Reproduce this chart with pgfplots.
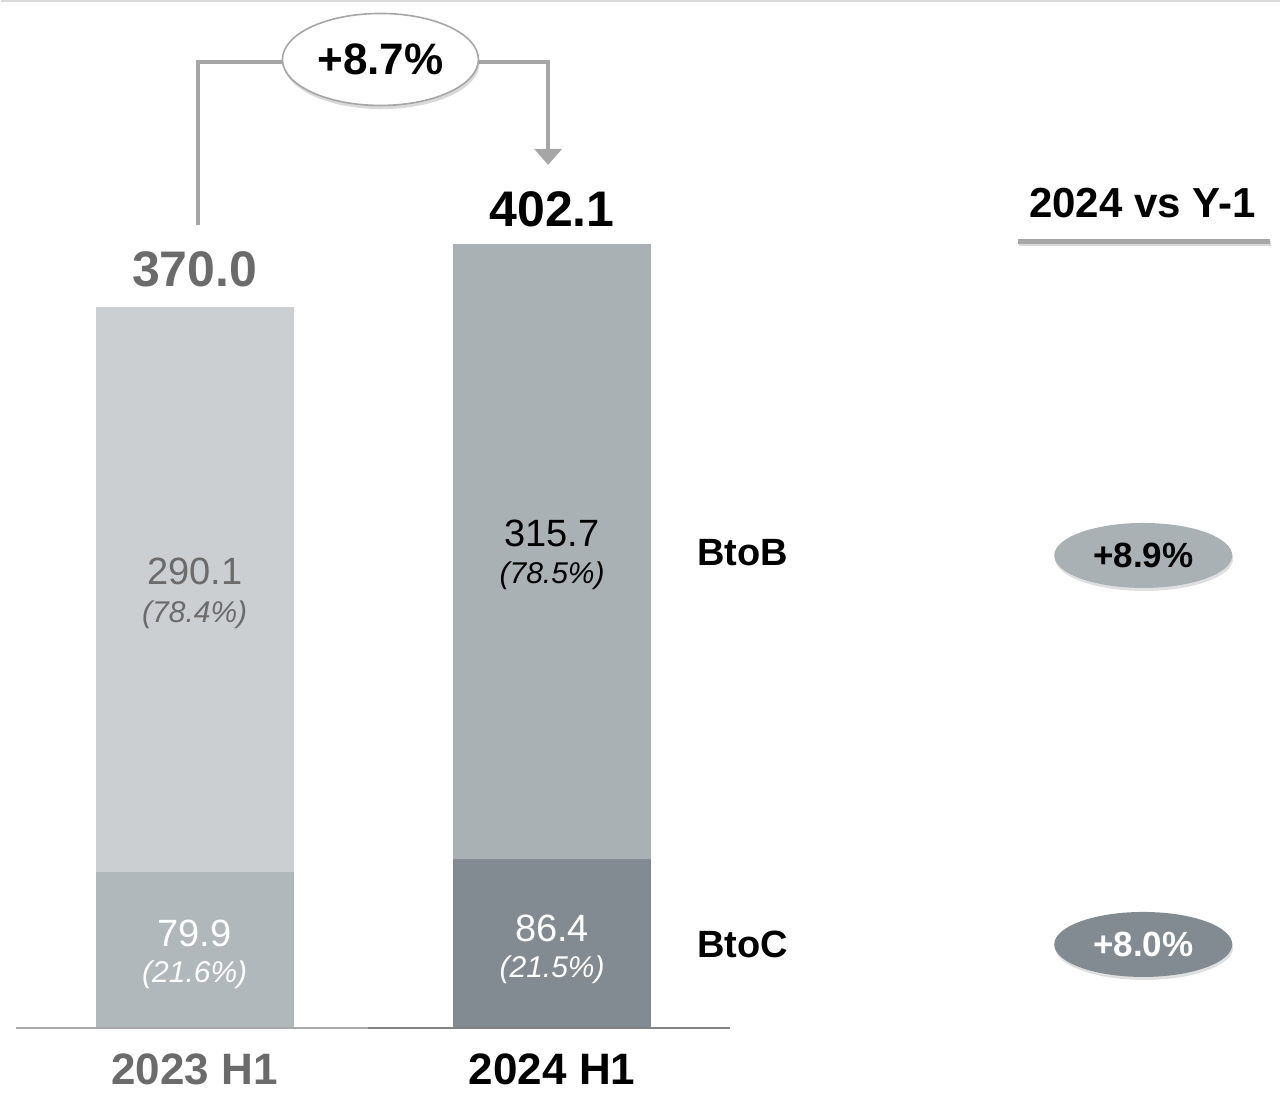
\documentclass[border=0pt]{standalone}
\usepackage{pgfplots}
\pgfplotsset{compat=1.18}
\usepackage{fontspec}
\setmainfont{Liberation Sans}
\usetikzlibrary{shapes.geometric,shadows,arrows.meta}
\definecolor{bBa}{HTML}{CBCFD2}
\definecolor{bCa}{HTML}{B1B8BB}
\definecolor{bBb}{HTML}{AAB1B4}
\definecolor{bCb}{HTML}{818B91}
\definecolor{txtgray}{HTML}{6B6B6B}
\definecolor{arrgray}{HTML}{A6A6A6}
\definecolor{topline}{HTML}{DADADA}
\definecolor{base1}{HTML}{A8A8A8}
\definecolor{base2}{HTML}{828282}
\newcommand\fs[1]{\fontsize{#1}{#1}\selectfont}
\begin{document}
\begin{tikzpicture}
\begin{axis}[
  at={(7.5pt,37.5pt)}, anchor=south west,
  scale only axis, width=357.5pt, height=514pt,
  xmin=-0.5, xmax=1.5, ymin=0, ymax=527.4,
  hide axis, clip=false,
  ybar stacked, bar width=99pt,
]
\addplot[fill=bCa, draw=none] coordinates {(0,79.9) (1,0)};
\addplot[fill=bCb, draw=none] coordinates {(0,0) (1,86.4)};
\addplot[fill=bBa, draw=none] coordinates {(0,290.1) (1,0)};
\addplot[fill=bBb, draw=none] coordinates {(0,0) (1,315.7)};

\coordinate (BBsw) at (axis cs:-0.5419,-38.48);
\coordinate (BBne) at (axis cs:3.0363,527.4);
\coordinate (TLa) at (axis cs:-0.5419,526.9);
\coordinate (TLb) at (axis cs:3.0363,526.9);
\coordinate (BLa) at (axis cs:-0.5,0);
\coordinate (BLm) at (axis cs:0.486,0);
\coordinate (BLb) at (axis cs:1.4972,0);
\coordinate (Ar1) at (axis cs:0.0084,412.0);
\coordinate (Ar2) at (axis cs:0.0084,495.6);
\coordinate (Ar3) at (axis cs:0.9888,495.6);
\coordinate (Ar4) at (axis cs:0.9888,442.8);
\coordinate (ULa) at (axis cs:2.3045,403.5);
\coordinate (ULb) at (axis cs:3.0084,403.5);
\coordinate (Tot0) at (axis cs:0,389.0);
\coordinate (Tot1) at (axis cs:1,420.2);
\coordinate (Ell) at (axis cs:0.5196,496.9);
\coordinate (V0b) at (axis cs:0,234.2);
\coordinate (P0b) at (axis cs:0,211.9);
\coordinate (V1b) at (axis cs:1,253.7);
\coordinate (P1b) at (axis cs:1,231.9);
\coordinate (V0c) at (axis cs:0,48.5);
\coordinate (P0c) at (axis cs:0,27.2);
\coordinate (V1c) at (axis cs:1,51.05);
\coordinate (P1c) at (axis cs:1,29.8);
\coordinate (C0) at (axis cs:0,-21.5);
\coordinate (C1) at (axis cs:1,-21.5);
\coordinate (LB) at (axis cs:1.405,243.7);
\coordinate (LC) at (axis cs:1.405,42.6);
\coordinate (Hd) at (axis cs:2.651,423.3);
\coordinate (GB) at (axis cs:2.6536,242.4);
\coordinate (GC) at (axis cs:2.6536,42.8);
\end{axis}

% frame, lines
\path (BBsw) rectangle (BBne);
\draw[line width=1pt, topline] (TLa) -- (TLb);
\draw[line width=1pt, base1] (BLa) -- (BLm);
\draw[line width=1pt, base2] (BLm) -- (BLb);
% arrow
\draw[line width=2.2pt, arrgray, line join=miter, -{Triangle[width=13.5pt,length=8pt]}]
  (Ar1) -- (Ar2) -- (Ar3) -- (Ar4);
% header underline with shadow
\draw[line width=2.5pt, black!15] ([shift={(0.5pt,-1.2pt)}]ULa) -- ([shift={(0.5pt,-1.2pt)}]ULb);
\draw[line width=2.5pt, arrgray] (ULa) -- (ULb);

% totals
\node[inner sep=0pt, text=txtgray] at (Tot0) {\fs{25}\bfseries 370.0};
\node[inner sep=0pt, text=black] at (Tot1) {\fs{25}\bfseries 402.1};

\node[ellipse, draw=arrgray, line width=0.8pt, fill=white, minimum width=98pt, minimum height=46pt, inner sep=0pt,
  drop shadow={opacity=0.3, shadow xshift=0.6pt, shadow yshift=-1.8pt}]
  at (Ell) {\fs{22}\bfseries +8.7\%};

% segment values
\node[inner sep=0pt, text=txtgray] at (V0b) {\fs{19}290.1};
\node[inner sep=0pt, text=txtgray] at (P0b) {\fs{15}\itshape (78.4\%)};
\node[inner sep=0pt, text=black] at (V1b) {\fs{19}315.7};
\node[inner sep=0pt, text=black] at (P1b) {\fs{15}\itshape (78.5\%)};
\node[inner sep=0pt, text=white] at (V0c) {\fs{19}79.9};
\node[inner sep=0pt, text=white] at (P0c) {\fs{15}\itshape (21.6\%)};
\node[inner sep=0pt, text=white] at (V1c) {\fs{19}86.4};
\node[inner sep=0pt, text=white] at (P1c) {\fs{15}\itshape (21.5\%)};

% category labels
\node[inner sep=0pt, text=txtgray] at (C0) {\fs{22}\bfseries 2023 H1};
\node[inner sep=0pt, text=black] at (C1) {\fs{22}\bfseries 2024 H1};

% series labels
\node[inner sep=0pt, anchor=west] at (LB) {\fs{19}\bfseries BtoB};
\node[inner sep=0pt, anchor=west] at (LC) {\fs{19}\bfseries BtoC};

% right header
\node[inner sep=0pt] at (Hd) {\fs{21}\bfseries 2024 vs Y-1};

% growth ellipses
\node[ellipse, fill=bBb, minimum width=89pt, minimum height=32.5pt, inner sep=0pt,
  drop shadow={opacity=0.25, shadow xshift=0.5pt, shadow yshift=-1.5pt}]
  at (GB) {\fs{17.5}\bfseries +8.9\%};
\node[ellipse, fill=bCb, text=white, minimum width=89pt, minimum height=32.5pt, inner sep=0pt,
  drop shadow={opacity=0.25, shadow xshift=0.5pt, shadow yshift=-1.5pt}]
  at (GC) {\fs{17.5}\bfseries +8.0\%};
\end{tikzpicture}
\end{document}
